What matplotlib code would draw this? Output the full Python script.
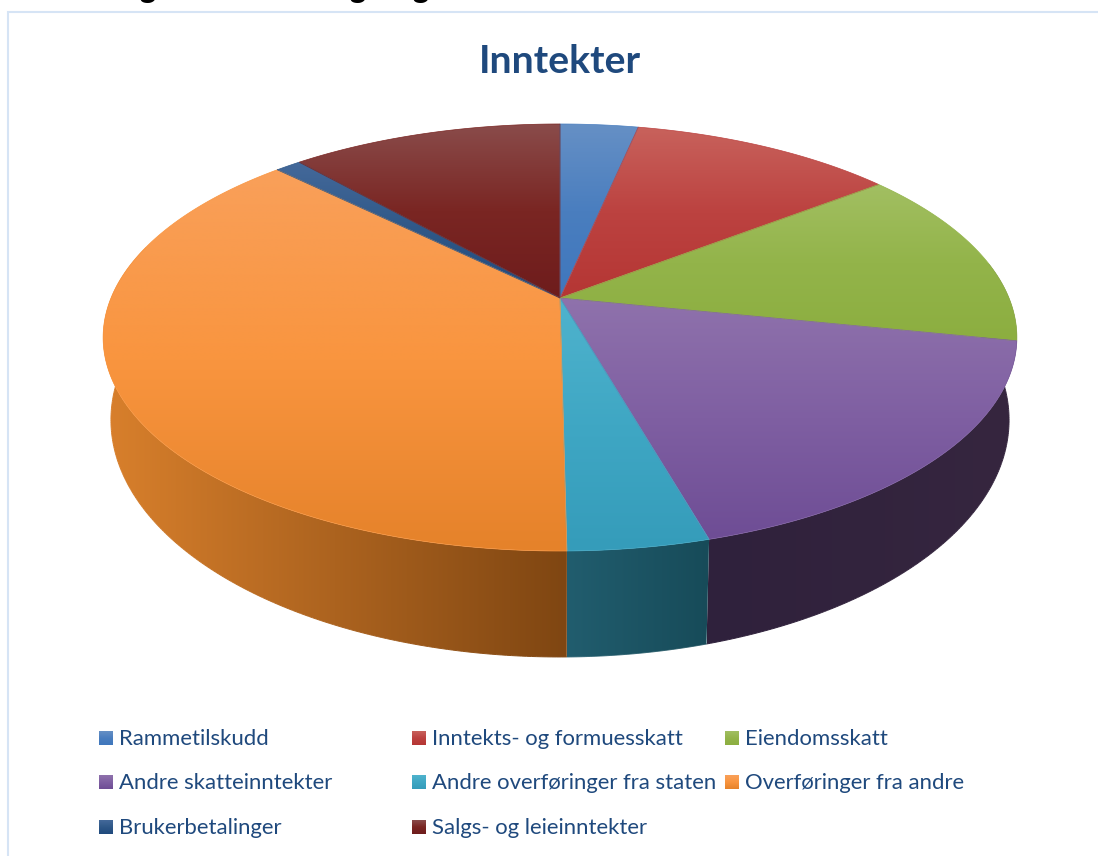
import matplotlib
matplotlib.use("Agg")
import matplotlib.pyplot as plt
import numpy as np
from matplotlib.collections import LineCollection
from matplotlib.colors import LinearSegmentedColormap
from matplotlib.patches import Polygon

title = "Inntekter"
labels = ["Rammetilskudd", "Inntekts- og formuesskatt", "Eiendomsskatt", "Andre skatteinntekter",
          "Andre overføringer fra staten", "Overføringer fra andre", "Brukerbetalinger", "Salgs- og leieinntekter"]
values = [3.3, 11.2, 13.7, 17.4, 4.2, 37.6, 1.1, 11.5]

# light, middle and dark colour of the top faces
top_colors = [["#6690C5", "#4A7EBF", "#3F77BD"],
              ["#C8625C", "#BC4240", "#B53634"],
              ["#A2BF62", "#93B44A", "#8CAE40"],
              ["#8F72AC", "#7F5FA2", "#6E4D95"],
              ["#4FB3CD", "#3FA7C4", "#359CBA"],
              ["#F9A05A", "#F9953F", "#E5822A"],
              ["#44699A", "#2F5888", "#1F497D"],
              ["#8A4C4B", "#7A2623", "#6E1C1C"]]
# left and right colour of the side walls, only where the wall can be seen
wall_colors = {3: ["#2F213C", "#36263F"],
               4: ["#215D6E", "#174B59"],
               5: ["#D9802C", "#7F4612"]}

# the pie is seen in perspective, so both rims are projected circles
k = 0.185
rim_top = dict(cx=560, py=298, a=449, b=206.2)
rim_bottom = dict(cx=560, py=376.1, a=441.3, b=228.9)


def project(deg, rim):
    th = np.radians(deg)
    d = 1 + k * np.cos(th)
    return rim["cx"] + rim["a"] * np.sin(th) / d, rim["py"] - rim["b"] * np.cos(th) / d


def arc(start, end, rim, n=200):
    x, y = project(np.linspace(start, end, n), rim)
    return np.column_stack([x, y])


def gradient_fill(ax, verts, colors, z, horizontal=False):
    cmap = LinearSegmentedColormap.from_list("g", colors)
    ramp = np.linspace(0, 1, 256)
    ramp = ramp.reshape(1, -1) if horizontal else ramp.reshape(-1, 1)
    patch = Polygon(verts, closed=True, facecolor="none", edgecolor="none")
    ax.add_patch(patch)
    ax.imshow(ramp, cmap=cmap, aspect="auto", clip_path=patch, interpolation="bilinear", zorder=z,
              extent=[verts[:, 0].min(), verts[:, 0].max(), verts[:, 1].max(), verts[:, 1].min()])


def wall(ax, start, end, colors):
    upper = arc(start, end, rim_top)
    lower = arc(start, end, rim_bottom)
    verts = np.vstack([upper, lower[::-1]])
    gradient_fill(ax, verts, colors, 1, horizontal=True)
    # soft lower outline in the colour of the wall at that spot
    cmap = LinearSegmentedColormap.from_list("w", colors)
    segs = np.stack([lower[:-1], lower[1:]], axis=1)
    shade = (lower[:-1, 0] - verts[:, 0].min()) / (verts[:, 0].max() - verts[:, 0].min())
    ax.add_collection(LineCollection(segs, colors=cmap(shade), linewidths=0.7, zorder=1.1))


fig = plt.figure(figsize=(10.98, 8.56), dpi=100)
ax = fig.add_axes([0, 0, 1, 1])
ax.axis("off")

edges = 3.6 * np.concatenate([[0], np.cumsum(values)])

# side walls first, the top faces cover what is behind them
wall(ax, 80, edges[4], wall_colors[3])
wall(ax, edges[4], edges[5], wall_colors[4])
wall(ax, edges[5], 285, wall_colors[5])

for i in range(len(values)):
    verts = np.vstack([[rim_top["cx"], rim_top["py"]], arc(edges[i], edges[i + 1], rim_top)])
    gradient_fill(ax, verts, top_colors[i], 2)
    # soft edge, the clip path alone is jagged
    ax.add_patch(Polygon(verts, closed=True, facecolor="none", edgecolor=top_colors[i][1], linewidth=0.5, zorder=2.1))

# chart frame, only the top and left sides are inside the crop
ax.plot([8, 8, 1098], [856, 12, 12], color="#D6E4F5", linewidth=1.5, solid_joinstyle="miter")

ax.text(560, 61, title, family="Lato", weight="bold", fontsize=28.2, color="#1F497D", ha="center", va="center")

# the heading above the chart is cut off, only the tails of its g's are left
for x in [147, 357, 420]:
    ax.text(x, -2, "g", family="Lato", weight="black", fontsize=22, color="black", ha="center", va="baseline")

legend_x = [99, 412, 725]
legend_y = [738, 782, 827]
for i, label in enumerate(labels):
    x = legend_x[i % 3]
    y = legend_y[i // 3]
    verts = np.array([[x, y - 7], [x + 14, y - 7], [x + 14, y + 7], [x, y + 7]])
    gradient_fill(ax, verts, top_colors[i], 2)
    ax.text(x + 20, y + 1, label, family="Lato", fontsize=15.9, color="#1F497D", ha="left", va="center")

ax.set_xlim(0, 1098)
ax.set_ylim(856, 0)
fig.savefig("out.png", dpi=100)
